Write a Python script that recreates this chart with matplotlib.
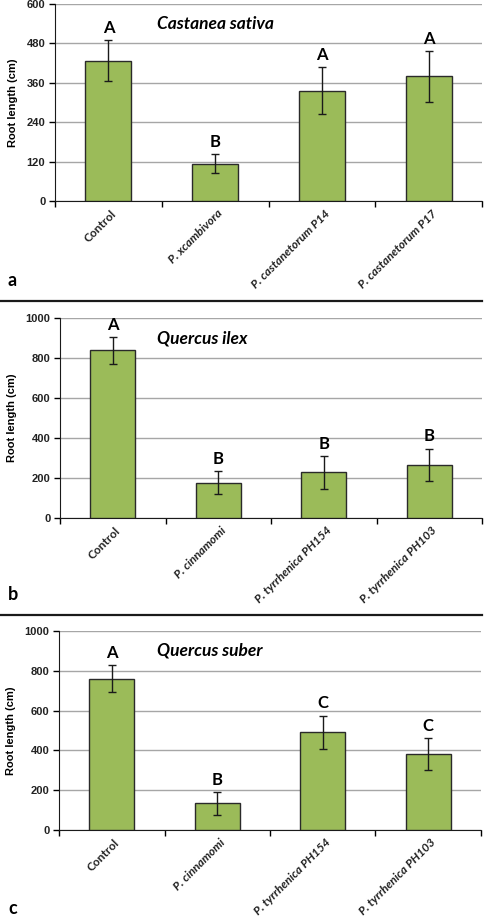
import matplotlib
matplotlib.use("Agg")
import matplotlib.pyplot as plt
from matplotlib.lines import Line2D
import numpy as np

# panel a - Castanea sativa
cats_a = ["Control", "P. xcambivora", "P. castanetorum P14", "P. castanetorum P17"]
vals_a = [427, 113, 336, 380]
errs_a = [62, 29, 72, 77]
lets_a = ["A", "B", "A", "A"]

# panel b - Quercus ilex
cats_b = ["Control", "P. cinnamomi", "P. tyrrhenica PH154", "P. tyrrhenica PH103"]
vals_b = [838, 177, 228, 267]
errs_b = [68, 58, 82, 80]
lets_b = ["A", "B", "B", "B"]

# panel c - Quercus suber
cats_c = ["Control", "P. cinnamomi", "P. tyrrhenica PH154", "P. tyrrhenica PH103"]
vals_c = [761, 134, 492, 383]
errs_c = [67, 58, 83, 80]
lets_c = ["A", "B", "C", "C"]

GREEN = "#9bbb59"
HUM = "Lato"
AR = "Liberation Sans"

W, H = 492, 917
fig = plt.figure(figsize=(W / 100, H / 100), dpi=100)


def px_axes(left, right, top, bottom):
    return fig.add_axes([left / W, (H - bottom) / H, (right - left) / W, (bottom - top) / H])


def panel(ax, cats, vals, errs, lets, ymax, step, title, tx, ty):
    x = np.arange(len(cats))
    ax.bar(x, vals, width=0.43, color=GREEN, edgecolor="#2a2a2a", linewidth=1.0, zorder=3)
    ax.errorbar(x, vals, yerr=errs, fmt="none", ecolor="#1a1a1a", elinewidth=1.0,
                capsize=3, capthick=1.0, zorder=4)
    for xi, v, e, l in zip(x, vals, errs, lets):
        ax.annotate(l, (xi, v + e), xytext=(0, 3), textcoords="offset points",
                    ha="center", va="bottom", fontsize=12, fontweight="bold", family=HUM)
    ax.set_xlim(-0.5, len(cats) - 0.5)
    ax.set_ylim(0, ymax)
    ax.set_yticks(np.arange(0, ymax + 1, step))
    ax.set_yticklabels([str(int(t)) for t in np.arange(0, ymax + 1, step)],
                       fontsize=8, fontweight="bold", family=AR, color="#222222")
    ax.yaxis.grid(True, color="#a6a6a6", linewidth=1.0, zorder=0)
    ax.set_axisbelow(True)
    for s in ["top", "right"]:
        ax.spines[s].set_visible(False)
    ax.spines["left"].set_color("#1a1a1a")
    ax.spines["bottom"].set_color("#1a1a1a")
    ax.tick_params(axis="y", length=4, width=1, pad=3, direction="out")
    # category boundaries carry the tick marks
    ax.set_xticks(np.arange(-0.5, len(cats), 1.0))
    ax.set_xticklabels([])
    ax.tick_params(axis="x", length=4, width=1, direction="out")
    for xi, c in zip(x, cats):
        style = "normal" if c == "Control" else "italic"
        ax.text(xi + 0.02, -0.035, c, transform=ax.get_xaxis_transform(), rotation=45,
                ha="right", va="top", rotation_mode="anchor", fontsize=8.6,
                fontweight="bold", fontstyle=style, family=HUM, color="#222222")
    ax.set_ylabel("Root length (cm)", fontsize=8, family=AR, fontweight="bold", labelpad=6)
    ax.text(tx, ty, title, transform=ax.transAxes, fontsize=12.5, fontweight="bold",
            fontstyle="italic", family=HUM, va="center", ha="left")


ax_a = px_axes(55, 482, 4, 201)
panel(ax_a, cats_a, vals_a, errs_a, lets_a, 600, 120, "Castanea sativa", 0.24, 0.90)
ax_b = px_axes(60, 482, 318, 518)
panel(ax_b, cats_b, vals_b, errs_b, lets_b, 1000, 200, "Quercus ilex", 0.23, 0.90)
ax_c = px_axes(59, 481, 631, 830)
panel(ax_c, cats_c, vals_c, errs_c, lets_c, 1000, 200, "Quercus suber", 0.232, 0.90)

for lab, yp in [("a", 281), ("b", 595), ("c", 908)]:
    fig.text(8 / W, (H - yp) / H, lab, fontsize=13, fontweight="bold", family=HUM,
             va="center", ha="left")

for yp in [301, 615]:
    fig.add_artist(Line2D([0, 482 / W], [(H - yp) / H] * 2, color="#1a1a1a", linewidth=1.6))

fig.savefig("out.png", dpi=100)
